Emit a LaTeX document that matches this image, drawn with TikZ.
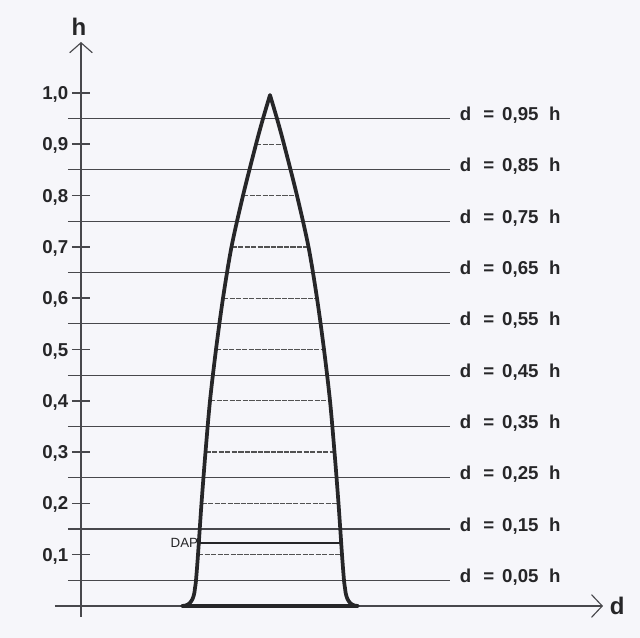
\documentclass[tikz,border=0pt]{standalone}
\usepackage{fontspec}
\setmainfont{Liberation Sans}
\usetikzlibrary{positioning,arrows.meta}
\definecolor{paper}{RGB}{246,246,250}
\definecolor{ink}{RGB}{38,38,40}
\definecolor{rulegray}{RGB}{72,72,76}

\begin{document}
\begin{tikzpicture}[
  x=0.75pt, y=384.75pt,
  font=\bfseries\fontsize{14}{14}\selectfont, text=ink,
  ax/.style={draw=rulegray, line width=0.85pt},
  axtip/.style={-{Straight Barb[length=#1, width=17pt, line width=0.85pt]}},
  lvl/.style={draw=rulegray, line width=0.85pt},
  sec/.style={draw=black!68, line width=1pt, dash pattern=on 4pt off 0.9pt},
  tk/.style={draw=rulegray, line width=1.2pt},
  stem/.style={draw=ink, line width=2.8pt, line join=round},
  dap/.style={draw=ink, line width=2.2pt},
  tlbl/.style={anchor=east, inner sep=0pt, text depth=0pt},
  rlbl/.style={anchor=base west, inner sep=0pt, xshift=7pt, yshift=-1.5pt},
  axlbl/.style={inner sep=0pt, font=\bfseries\fontsize{18}{18}\selectfont},
  daplbl/.style={inner sep=0.5pt, font=\fontsize{10}{10}\selectfont},
]
\useasboundingbox (-81,-0.06238) rectangle (559,1.18129);
\fill[paper] (-81,-0.06238) rectangle (559,1.18129);

% ---- axes ----
\coordinate (ybot) at (0,-0.0214);
\coordinate (ytop) at (0,1.0994);
\coordinate (xbeg) at (-26,0);
\coordinate (xtip) at (522,0);
\draw[ax, axtip=7.5pt] (ybot) -- (ytop);
\draw[ax, axtip=8pt] (xbeg) -- (xtip);
\node[axlbl, above=5pt of ytop, xshift=-1.5pt] (hlbl) {h};
\node[axlbl, right=5pt of xtip] (dlbl) {d};

% ---- height ticks ----
\foreach \i in {1,...,10}{
  \draw[tk] (-9,\i/10) -- (9,\i/10);
  \node[tlbl] (t\i) at (-12.5,\i/10) {\ifnum\i=10 1,0\else 0,\i\fi};
}

% ---- measuring levels ----
\foreach \i in {0,...,9}
  \draw[lvl] (-13,\i*0.1+0.05) -- (369,\i*0.1+0.05)
    node[rlbl] (d\i) {d\hspace{9pt}=\hspace{6pt}0,\i5\hspace{8pt}h};

% ---- sections inside the stem ----
\foreach \h/\l/\r in {0.1/117/261, 0.2/120.5/257.5, 0.3/124.5/253.5,
                      0.4/129/249, 0.5/135/243, 0.6/142/236, 0.7/150.5/227.5,
                      0.8/162/216, 0.9/175/203}
  \draw[sec] (\l,\h) -- (\r,\h);

% ---- stem profile ----
\coordinate (peak) at (189,0.996);
\draw[stem] (101,0) .. controls (109,0) and (113,0.012) .. (114,0.035)
  -- plot[smooth, tension=0.5] coordinates {(114,0.035) (115,0.05) (117,0.1)
       (120.5,0.2) (124.5,0.3) (129,0.4) (135,0.5) (142,0.6) (150.5,0.7)
       (162,0.8) (175,0.9) (182,0.95) (189,0.996)}
  -- plot[smooth, tension=0.5] coordinates {(189,0.996) (196,0.95) (203,0.9)
       (216,0.8) (227.5,0.7) (236,0.6) (243,0.5) (249,0.4) (253.5,0.3)
       (257.5,0.2) (261,0.1) (263,0.05) (264,0.035)}
  .. controls (265,0.012) and (269,0) .. (277,0) -- cycle;

% ---- DAP ----
\coordinate (dapL) at (118,0.1228);
\coordinate (dapR) at (260,0.1228);
\draw[dap] (dapL) -- (dapR);
\node[daplbl, left=0pt of dapL] (daptxt) {DAP};
\end{tikzpicture}
\end{document}
